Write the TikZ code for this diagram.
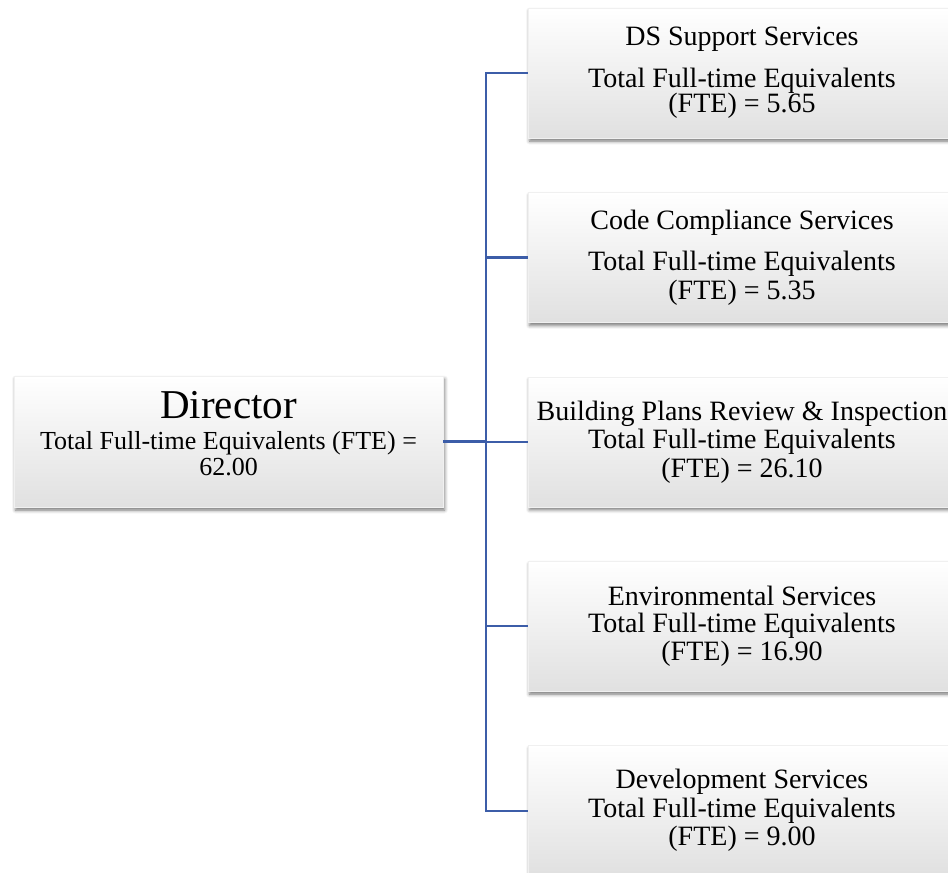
\documentclass[tikz,border=0pt]{standalone}
\usepackage{fontspec}
\setmainfont{Liberation Serif}
\usepackage{tikz}
\usetikzlibrary{calc, positioning, shadows, shadows.blur}
\definecolor{linkblue}{RGB}{60,93,168}

\begin{document}
\begin{tikzpicture}[
    x=1pt, y=-1pt,
    box/.style={rectangle, draw=gray!12, top color=white, middle color=white, bottom color=gray!24,
        blur shadow={shadow xshift=1.5pt, shadow yshift=-3pt, shadow blur radius=3.5pt, shadow opacity=55},
        align=center, inner sep=2pt},
    head/.style={box, minimum width=429pt, minimum height=131pt, font=\fontsize{26}{25.5}\selectfont},
    unit/.style={box, minimum width=428pt, minimum height=130pt, font=\fontsize{28}{28.5}\selectfont},
    link/.style={draw=linkblue, line width=2.2pt}
]
\useasboundingbox (0,0) rectangle (948,873);

% Director
\node[head] (dir) at (228.5,441.5) {{\fontsize{41}{41}\selectfont Director}\\[6pt]
    Total Full-time Equivalents (FTE) =\\ 62.00\\[-9pt]\mbox{}};

% Units, top to bottom
\node[unit] (ds) at (742,73) {DS Support Services\\[13pt] Total Full-time Equivalents\\[-3pt] (FTE) = 5.65};
\node[unit, below=54pt of ds] (code) {Code Compliance Services\\[13pt] Total Full-time Equivalents\\ (FTE) = 5.35};
\node[unit, below=54pt of code] (bldg) {Building Plans Review \& Inspection\\ Total Full-time Equivalents\\ (FTE) = 26.10};
\node[unit, below=54pt of bldg] (env) {Environmental Services\\[-1pt] Total Full-time Equivalents\\[-1pt] (FTE) = 16.90};
\node[unit, below=54pt of env] (dev) {Development Services\\ Total Full-time Equivalents\\ (FTE) = 9.00};

% Connectors
\coordinate (hub) at ($(dir.east)+(43pt,0)$);
\draw[link] (dir.east) -- (hub);
\foreach \n in {ds, code, bldg, env, dev}
    \draw[link] (hub) |- (\n.west);

\end{tikzpicture}
\end{document}
